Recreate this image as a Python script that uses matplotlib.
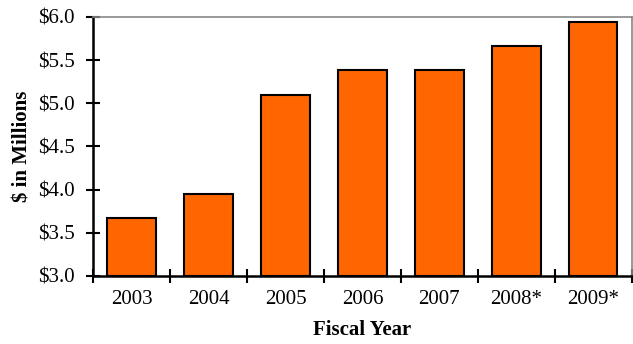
import numpy as np
import matplotlib.pyplot as plt

# funding by fiscal year, $ millions
years = ['2003', '2004', '2005', '2006', '2007', '2008*', '2009*']
amounts = [3.67, 3.95, 5.10, 5.38, 5.39, 5.66, 5.94]
y_ticks = [3.0, 3.5, 4.0, 4.5, 5.0, 5.5, 6.0]

plt.rcParams['font.family'] = ['Liberation Serif', 'DejaVu Serif']

fig = plt.figure(figsize=(6.33, 3.44), dpi=100)
ax = fig.add_axes([0.147, 0.198, 0.851, 0.753])

x = np.arange(len(years))
ax.bar(x, [a - 3.0 for a in amounts], bottom=3.0, width=0.63,
       color='#FF6600', edgecolor='black', linewidth=1.5, zorder=3)

ax.set_xlim(-0.5, len(years) - 0.5)
ax.set_ylim(3.0, 6.0)
ax.set_yticks(y_ticks)
ax.set_yticklabels([f'${v:.1f}' for v in y_ticks], fontsize=15)

# category labels sit between the boundary ticks
ax.set_xticks(np.arange(len(years) + 1) - 0.5)
ax.set_xticklabels([])
ax.set_xticks(x, minor=True)
ax.set_xticklabels(years, minor=True, fontsize=15)
ax.tick_params(axis='x', which='minor', length=0, pad=10)
ax.tick_params(axis='x', which='major', direction='inout', length=10, width=1.5)
ax.tick_params(axis='y', direction='inout', length=10, width=1.5, pad=8)

ax.spines['left'].set_linewidth(1.8)
ax.spines['bottom'].set_linewidth(1.8)
ax.spines['top'].set_color('#888888')
ax.spines['right'].set_color('#888888')
ax.spines['top'].set_linewidth(1.2)
ax.spines['right'].set_linewidth(1.2)

ax.set_xlabel('Fiscal Year', fontsize=15, fontweight='bold', labelpad=8)
ax.set_ylabel('$ in Millions', fontsize=15, fontweight='bold', labelpad=4)

fig.savefig('out.png', dpi=100)
